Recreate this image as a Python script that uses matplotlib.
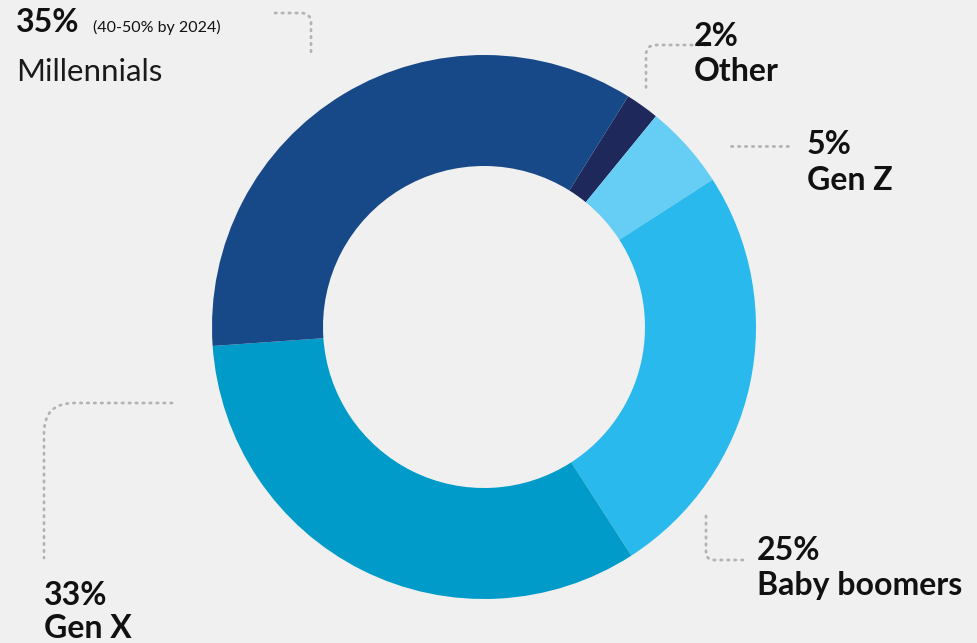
import matplotlib
matplotlib.use("Agg")
import matplotlib.pyplot as plt
from matplotlib.path import Path
from matplotlib.patches import PathPatch

plt.rcParams['font.family'] = ['Lato', 'DejaVu Sans']

# data
segments = ["Other", "Gen Z", "Baby boomers", "Gen X", "Millennials"]
shares = [2, 5, 25, 33, 35]
colors = ["#1f285a", "#66cef5", "#29b9ec", "#009bc9", "#174989"]
pct_labels = ["2%", "5%", "25%", "33%", "35%"]
note = "(40-50% by 2024)"

W, H = 978, 643
fig = plt.figure(figsize=(W / 100, H / 100), dpi=100, facecolor="#f0f0f0")
ax = fig.add_axes([0, 0, 1, 1])
ax.set_xlim(0, W)
ax.set_ylim(0, H)
ax.set_aspect("equal")
ax.axis("off")

ax.pie(shares, colors=colors, startangle=58, counterclock=False,
       center=(484, H - 327), radius=272,
       wedgeprops=dict(width=111, linewidth=0))
ax.set_xlim(0, W)
ax.set_ylim(0, H)

def Y(y):
    return H - y

dots = (0, (0.5, 2.0))

def leader(p0, c, p1, r):
    # dotted leader with one rounded corner at c
    def toward(a, b, d):
        dx, dy = b[0] - a[0], b[1] - a[1]
        n = (dx ** 2 + dy ** 2) ** 0.5
        return (a[0] + dx / n * d, a[1] + dy / n * d)
    p0 = (p0[0], Y(p0[1])); c = (c[0], Y(c[1])); p1 = (p1[0], Y(p1[1]))
    a = toward(c, p0, r)
    b = toward(c, p1, r)
    path = Path([p0, a, c, b, p1],
                [Path.MOVETO, Path.LINETO, Path.CURVE3, Path.CURVE3, Path.LINETO])
    ax.add_patch(PathPatch(path, fill=False, edgecolor="#b3b3b3",
                           linewidth=2, linestyle=dots, capstyle="round"))

leader((275, 13), (311, 13), (311, 57), 10)
leader((706, 45), (646, 45), (646, 88), 10)
ax.plot([731, 793], [Y(146), Y(146)], color="#b3b3b3", lw=2,
        linestyle=dots, dash_capstyle="round")
leader((172, 403), (44, 403), (44, 558), 30)
leader((706, 516), (706, 560), (743, 560), 8)

big = 23
kw = dict(color="#111111", va="baseline", ha="left")

# Millennials
ax.text(16, Y(32), pct_labels[4], fontsize=big, fontweight="bold", **kw)
ax.text(93, Y(32), note, fontsize=11.5, **kw)
ax.text(16, Y(81), segments[4], fontsize=22.5, color="#1a1a1a",
        va="baseline", ha="left")
# Other
ax.text(694, Y(46), pct_labels[0], fontsize=big, fontweight="bold", **kw)
ax.text(694, Y(81), segments[0], fontsize=big, fontweight="bold", **kw)
# Gen Z
ax.text(807, Y(154), pct_labels[1], fontsize=big, fontweight="bold", **kw)
ax.text(807, Y(190), segments[1], fontsize=big, fontweight="bold", **kw)
# Baby boomers
ax.text(757, Y(560), pct_labels[2], fontsize=big, fontweight="bold", **kw)
ax.text(757, Y(595), segments[2], fontsize=big, fontweight="bold", **kw)
# Gen X
ax.text(44, Y(605), pct_labels[3], fontsize=big, fontweight="bold", **kw)
ax.text(44, Y(638), segments[3], fontsize=big, fontweight="bold", **kw)

fig.savefig("out.png", dpi=100, facecolor=fig.get_facecolor())
